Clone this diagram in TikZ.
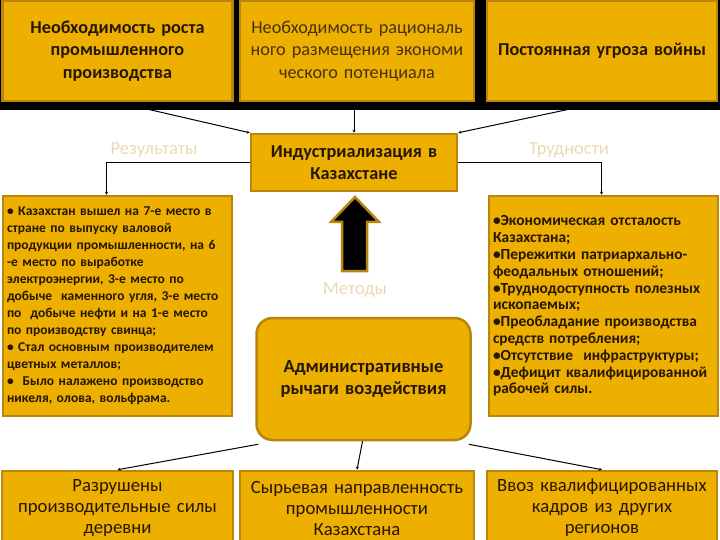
\documentclass[tikz,border=0pt]{standalone}
\usepackage{fontspec}
\setmainfont{Carlito}
\usetikzlibrary{arrows.meta}
\definecolor{gold}{RGB}{237,175,0}
\definecolor{goldborder}{RGB}{184,134,14}
\definecolor{txt}{RGB}{38,22,4}
\definecolor{txtlight}{RGB}{70,50,15}
\definecolor{lbl}{RGB}{232,218,178}
\tikzset{
  box/.style={draw=goldborder, fill=gold, line width=2.5pt, inner sep=4pt,
    align=center, text=txt, font=\fontsize{18.3}{22}\selectfont},
  listbox/.style={box, align=left, font=\bfseries\fontsize{13.5}{17}\selectfont},
  lab/.style={text=lbl, font=\fontsize{18.5}{20}\selectfont},
  conn/.style={line width=1pt, -{Stealth[length=3pt,width=3pt]}},
}
\begin{document}
\begin{tikzpicture}[x=1pt,y=-1pt]
\useasboundingbox (0,0) rectangle (720,540);
\fill[black] (0,0) rectangle (720,110);
% top row
\node[box, minimum width=229pt, minimum height=100pt, text width=222pt, font=\bfseries\fontsize{18.2}{22.5}\selectfont] (tl) at (117.5,51)
  {Необходимость роста\\промышленного\\производства};
\node[box, minimum width=232pt, minimum height=100pt, text width=226pt, text=txtlight, font=\fontsize{18.2}{22.5}\selectfont] (tm) at (357,51)
  {Необходимость рациональ\\ного размещения экономи\\ческого потенциала};
\node[box, minimum width=228pt, minimum height=100pt, text width=222pt, font=\bfseries\fontsize{18.2}{22.5}\selectfont] (tr) at (602,51)
  {Постоянная угроза войны};
% centre
\node[box, minimum width=204pt, minimum height=57pt, text width=198pt, font=\bfseries\fontsize{18.3}{22}\selectfont] (c) at (354,162.5)
  {Индустриализация в\\Казахстане};
\node[lab] (lres) at (154,150) {Результаты};
\node[lab] (ldif) at (569,150) {Трудности};
% result / difficulty boxes
\node[listbox, minimum width=229pt, minimum height=220pt, text width=221pt] (res) at (117.5,306)
  {• Казахстан вышел на 7-е место в\\
   стране по выпуску валовой\\
   продукции промышленности, на 6\\
   -е место по выработке\\
   электроэнергии, 3-е место по\\
   добыче\ \ каменного угля, 3-е место\\
   по\ \ добыче нефти и на 1-е место\\
   по производству свинца;\\
   • Стал основным производителем\\
   цветных металлов;\\
   •\ \ Было налажено производство\\
   никеля, олова, вольфрама.};
\node[listbox, minimum width=229pt, minimum height=220pt, text width=221pt, font=\bfseries\fontsize{15.4}{16.8}\selectfont] (dif) at (603.5,306)
  {•Экономическая отсталость\\
   Казахстана;\\
   •Пережитки патриархально-\\
   феодальных отношений;\\
   •Труднодоступность полезных\\
   ископаемых;\\
   •Преобладание производства\\
   средств потребления;\\
   •Отсутствие\ \ инфраструктуры;\\
   •Дефицит квалифицированной\\
   рабочей силы.};
% block arrow
\coordinate (arrtip) at (355,197);
\filldraw[draw=goldborder, fill=black, line width=2.5pt, line join=miter]
  (arrtip) -- (379,222) -- (367,222) -- (367,271) -- (342,271) -- (342,222) -- (331,222) -- cycle;
\node[lab] (lmet) at (355,290) {Методы};
% admin box
\node[box, rounded corners=16pt, minimum width=213pt, minimum height=122pt, text width=206pt, font=\bfseries\fontsize{18.6}{21.5}\selectfont] (adm) at (363.5,379)
  {Административные\\рычаги воздействия};
% bottom row
\node[box, minimum width=229pt, minimum height=74pt, text width=223pt, font=\fontsize{18.7}{21}\selectfont] (bl) at (117.5,508)
  {Разрушены\\производительные силы\\деревни};
\node[box, minimum width=232pt, minimum height=74pt, text width=226pt, font=\fontsize{18.7}{21}\selectfont] (bm) at (357,508)
  {Сырьевая направленность\\промышленности\\Казахстана};
\node[box, minimum width=228pt, minimum height=74pt, text width=222pt, font=\fontsize{18.7}{21}\selectfont] (br) at (602,508)
  {Ввоз квалифицированных\\кадров из других\\регионов};
% connectors
\draw[conn] (tl.south) -- (c.north west);
\draw[conn] (tm.south -| c.north) -- (c.north);
\draw[conn] (tr.south) -- (c.north east);
\draw[conn] (c.west) -| ([xshift=-11pt]res.north);
\draw[conn] (c.east) -| ([xshift=-2pt]dif.north);
\draw[conn] ([xshift=3pt,yshift=-3pt]adm.south west) -- (bl.north);
\draw[conn] ([xshift=-1pt]adm.south) -- (bm.north);
\draw[conn] ([xshift=-3pt,yshift=-3pt]adm.south east) -- (br.north);
\end{tikzpicture}
\end{document}
